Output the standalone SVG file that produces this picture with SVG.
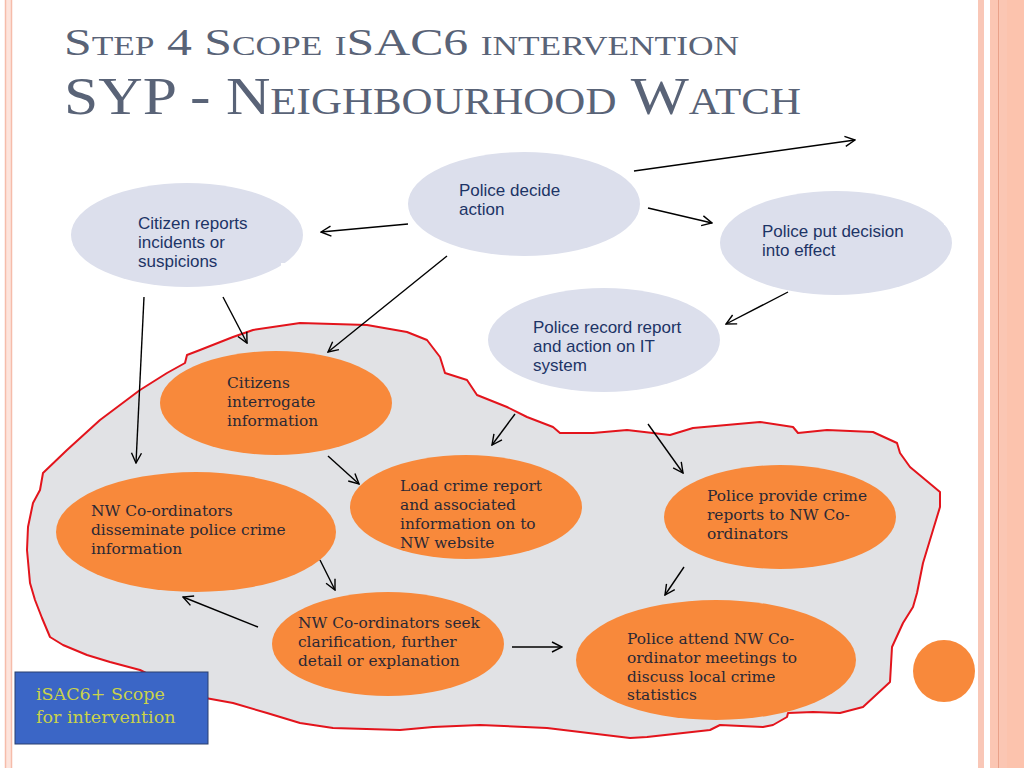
<svg xmlns="http://www.w3.org/2000/svg" width="1024" height="768" viewBox="0 0 1024 768">
<defs>
<style>
.lav{fill:#dcdfec}
.org{fill:#f8893b}
.lt{font-family:"Liberation Sans",Arial,sans-serif;font-size:17px;fill:#1d3466}
.ot{font-family:"DejaVu Serif","Liberation Serif",serif;font-size:15.4px;fill:#2a2835}
.conn line{stroke:#000;stroke-width:1.4;fill:none;marker-end:url(#ah)}
.title{font-family:"Liberation Serif","Times New Roman",serif;font-variant:small-caps;fill:#596377}
.bt{font-family:"DejaVu Serif","Liberation Serif",serif;font-size:17.5px;fill:#c9d24a}
</style>
<marker id="ah" viewBox="0 0 12 12" refX="11" refY="6" markerWidth="12" markerHeight="12" markerUnits="userSpaceOnUse" orient="auto">
<path d="M1,1 L11,6 L1,11" fill="none" stroke="#000" stroke-width="1.4"/>
</marker>
</defs>
<rect width="1024" height="768" fill="#fff"/>
<!-- borders -->
<rect x="5" y="0" width="7" height="768" fill="#fde4dc"/>
<line x1="5.5" y1="0" x2="5.5" y2="768" stroke="#f6bcaa" stroke-width="1.5"/>
<line x1="11.5" y1="0" x2="11.5" y2="768" stroke="#f6bcaa" stroke-width="1.5"/>
<rect x="978" y="0" width="6" height="768" fill="#f9c7b7"/>
<rect x="990" y="0" width="34" height="768" fill="#fbc6b3"/>
<line x1="998.5" y1="0" x2="998.5" y2="768" stroke="#e9a189" stroke-width="1"/>
<rect x="1007" y="0" width="17" height="768" fill="#fcc3ad"/>
<!-- title -->
<text class="title" x="64" y="55" font-size="38" textLength="675" lengthAdjust="spacingAndGlyphs">Step 4 Scope iSAC6 intervention</text>
<text class="title" x="64" y="114" font-size="53" textLength="737" lengthAdjust="spacingAndGlyphs">SYP - Neighbourhood Watch</text>
<!-- blob -->
<path id="scope" d="M187,355 L200,350 L233,337 L253,330 L300,323 L367,325 L407,332 L427,340 L440,357 L445,373 L467,380 L477,395 L507,407 L527,417 L553,427 L560,433 L593,433 L627,430 L670,435 L693,428 L760,422 L793,427 L798,433 L827,430 L873,432 L897,443 L900,453 L910,467 L940,492 L940,507 L933,530 L923,563 L917,593 L913,607 L903,623 L892,647 L890,682 L863,707 L840,713 L813,712 L788,713 L787,717 L773,725 L763,727 L720,725 L710,730 L647,737 L630,738 L547,728 L480,725 L433,727 L400,730 L333,728 L300,723 L267,713 L233,703 L200,697 L167,683 L150,675 L140,670 L110,662 L87,655 L63,645 L50,637 L42,618 L35,600 L30,583 L27,550 L28,527 L33,503 L40,490 L43,473 L67,450 L100,420 L140,390 L167,373 L185,363 Z" fill="#e1e2e5" stroke="#e3141c" stroke-width="2" stroke-linejoin="round"/>
<!-- nodes -->
<g id="citizen-reports">
<ellipse class="lav" cx="187" cy="235" rx="116" ry="52"/>
<rect x="281" y="263" width="25" height="22" fill="#fff"/>
<rect x="258" y="276" width="30" height="12" fill="#fff"/>
<text class="lt" x="138" y="229">Citizen reports</text>
<text class="lt" x="138" y="248">incidents or</text>
<text class="lt" x="138" y="267">suspicions</text>
</g>
<g id="police-decide">
<ellipse class="lav" cx="524" cy="204" rx="116" ry="52"/>
<text class="lt" x="459" y="196">Police decide</text>
<text class="lt" x="459" y="215">action</text>
</g>
<g id="police-put-decision">
<ellipse class="lav" cx="836" cy="243" rx="116" ry="52"/>
<rect x="944" y="200" width="20" height="25" fill="#fff"/>
<text class="lt" x="762" y="237">Police put decision</text>
<text class="lt" x="762" y="256">into effect</text>
</g>
<g id="police-record">
<ellipse class="lav" cx="604" cy="340" rx="116" ry="52"/>
<text class="lt" x="533" y="333">Police record report</text>
<text class="lt" x="533" y="352">and action on IT</text>
<text class="lt" x="533" y="371">system</text>
</g>
<g id="citizens-interrogate">
<ellipse class="org" cx="276" cy="403" rx="116" ry="52"/>
<text class="ot" x="227" y="388">Citizens</text>
<text class="ot" x="227" y="407">interrogate</text>
<text class="ot" x="227" y="426">information</text>
</g>
<g id="nw-disseminate">
<ellipse class="org" cx="196" cy="532" rx="140" ry="60"/>
<text class="ot" x="91" y="516">NW Co-ordinators</text>
<text class="ot" x="91" y="535">disseminate police crime</text>
<text class="ot" x="91" y="554">information</text>
</g>
<g id="load-crime-report">
<ellipse class="org" cx="466" cy="507" rx="116" ry="52"/>
<text class="ot" x="400" y="491">Load crime report</text>
<text class="ot" x="400" y="510">and associated</text>
<text class="ot" x="400" y="529">information on to</text>
<text class="ot" x="400" y="548">NW website</text>
</g>
<g id="police-provide">
<ellipse class="org" cx="780" cy="517" rx="116" ry="52"/>
<text class="ot" x="707" y="501">Police provide crime</text>
<text class="ot" x="707" y="520">reports to NW Co-</text>
<text class="ot" x="707" y="539">ordinators</text>
</g>
<g id="nw-seek">
<ellipse class="org" cx="388" cy="644" rx="116" ry="52"/>
<text class="ot" x="298" y="628">NW Co-ordinators seek</text>
<text class="ot" x="298" y="647">clarification, further</text>
<text class="ot" x="298" y="666">detail or explanation</text>
</g>
<g id="police-attend">
<ellipse class="org" cx="716" cy="660" rx="140" ry="60"/>
<text class="ot" x="627" y="644">Police attend NW Co-</text>
<text class="ot" x="627" y="663">ordinator meetings to</text>
<text class="ot" x="627" y="682">discuss local crime</text>
<text class="ot" x="627" y="700">statistics</text>
</g>
<g id="small-circle">
<ellipse class="org" cx="944" cy="671" rx="31" ry="31"/>
</g>
<g id="scope-label">
<rect x="15" y="672" width="193" height="72" fill="#3b66c6" stroke="#2a3f6e" stroke-width="1"/>
<text class="bt" x="36" y="700">iSAC6+ Scope</text>
<text class="bt" x="36" y="723">for intervention</text>
</g>
<!-- connectors -->
<g id="connectors" class="conn">
<line x1="634" y1="171" x2="855" y2="140"/>
<line x1="648" y1="208" x2="712" y2="223"/>
<line x1="408" y1="224" x2="321" y2="232"/>
<line x1="447" y1="256" x2="328" y2="352"/>
<line x1="223" y1="297" x2="247" y2="343"/>
<line x1="144" y1="297" x2="136" y2="463"/>
<line x1="788" y1="292" x2="726" y2="324"/>
<line x1="515" y1="414" x2="492" y2="445"/>
<line x1="648" y1="424" x2="683" y2="473"/>
<line x1="328" y1="456" x2="359" y2="484"/>
<line x1="320" y1="560" x2="335" y2="590"/>
<line x1="258" y1="627" x2="183" y2="597"/>
<line x1="512" y1="647" x2="562" y2="647"/>
<line x1="684" y1="567" x2="665" y2="595"/>
</g>
</svg>
